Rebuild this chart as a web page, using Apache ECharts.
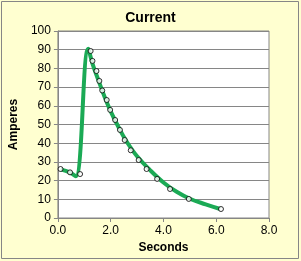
<!DOCTYPE html>
<html><head><meta charset="utf-8">
<script src="https://cdn.jsdelivr.net/npm/echarts@6/dist/echarts.min.js"></script>
<style>html,body{margin:0;padding:0;background:#fff;}#c{width:301px;height:261px;}</style>
</head><body><div id="c"></div>
<script>
var pointX = [0.10,0.46,0.84,1.24,1.31,1.46,1.57,1.68,1.85,1.98,2.17,2.35,2.53,2.76,3.06,3.36,3.76,4.25,4.96,6.18];
var pointY = [26.2,24.4,23.5,89.3,84.0,78.6,73.3,68.2,63.1,57.8,52.4,47.1,41.7,36.2,31.0,26.2,20.9,15.5,10.2,4.8];
var lineX = [0.10,0.45,0.68,1.15,1.30,1.50,1.75,2.00,2.30,2.60,3.00,3.50,4.00,4.50,5.00,5.60,6.15];
var lineY = [26.0,24.4,22.3,90.5,83.0,75.0,65.5,57.0,48.5,41.0,33.0,25.5,19.0,14.0,10.3,7.3,4.8];
var xTicks = [0,2,4,6,8];
var yTicks = [0,10,20,30,40,50,60,70,80,90,100];

var chart = echarts.init(document.getElementById('c'), null, {renderer:'canvas'});
var font = 'Liberation Sans';
chart.setOption({
  animation:false,
  backgroundColor:'#FFFFD0',
  graphic:[{type:'rect', shape:{x:1.5,y:1.5,width:297,height:257}, style:{fill:'none', stroke:'#868686', lineWidth:1}, z:-1}],
  title:{text:'Current', left:'center', top:6, textStyle:{fontFamily:font, fontSize:14, fontWeight:'bold', color:'#000'}},
  grid:{left:54, right:32, top:31, bottom:43, show:true, backgroundColor:'#fff', borderColor:'#868686', borderWidth:1},
  xAxis:{type:'value', min:0, max:8, interval:2,
    name:'Seconds', nameLocation:'middle', nameGap:21,
    nameTextStyle:{fontFamily:font, fontSize:12, fontWeight:'bold', color:'#000'},
    axisLine:{show:true, lineStyle:{color:'#868686'}},
    axisTick:{show:true, length:4, lineStyle:{color:'#868686'}},
    axisLabel:{fontFamily:font, fontSize:12, color:'#000', margin:7, formatter:function(v){return v.toFixed(1);}},
    splitLine:{show:false}},
  yAxis:{type:'value', min:0, max:100, interval:10,
    name:'Amperes', nameLocation:'middle', nameGap:33, nameRotate:90,
    nameTextStyle:{fontFamily:font, fontSize:12, fontWeight:'bold', color:'#000'},
    axisLine:{show:true, lineStyle:{color:'#868686'}},
    axisTick:{show:true, length:4, lineStyle:{color:'#868686'}},
    axisLabel:{fontFamily:font, fontSize:12, color:'#000', margin:7},
    splitLine:{show:true, lineStyle:{color:'#868686', width:1}}},
  series:[
    {type:'line', smooth:0.4, symbol:'none', data:lineX.map(function(x,i){return [x,lineY[i]];}),
     lineStyle:{color:'#1BAA55', width:4}, z:2},
    {type:'scatter', symbol:'circle', symbolSize:5, data:pointX.map(function(x,i){return [x,pointY[i]];}),
     itemStyle:{color:'#fff', borderColor:'#000', borderWidth:1}, z:3}
  ]
});
</script></body></html>
